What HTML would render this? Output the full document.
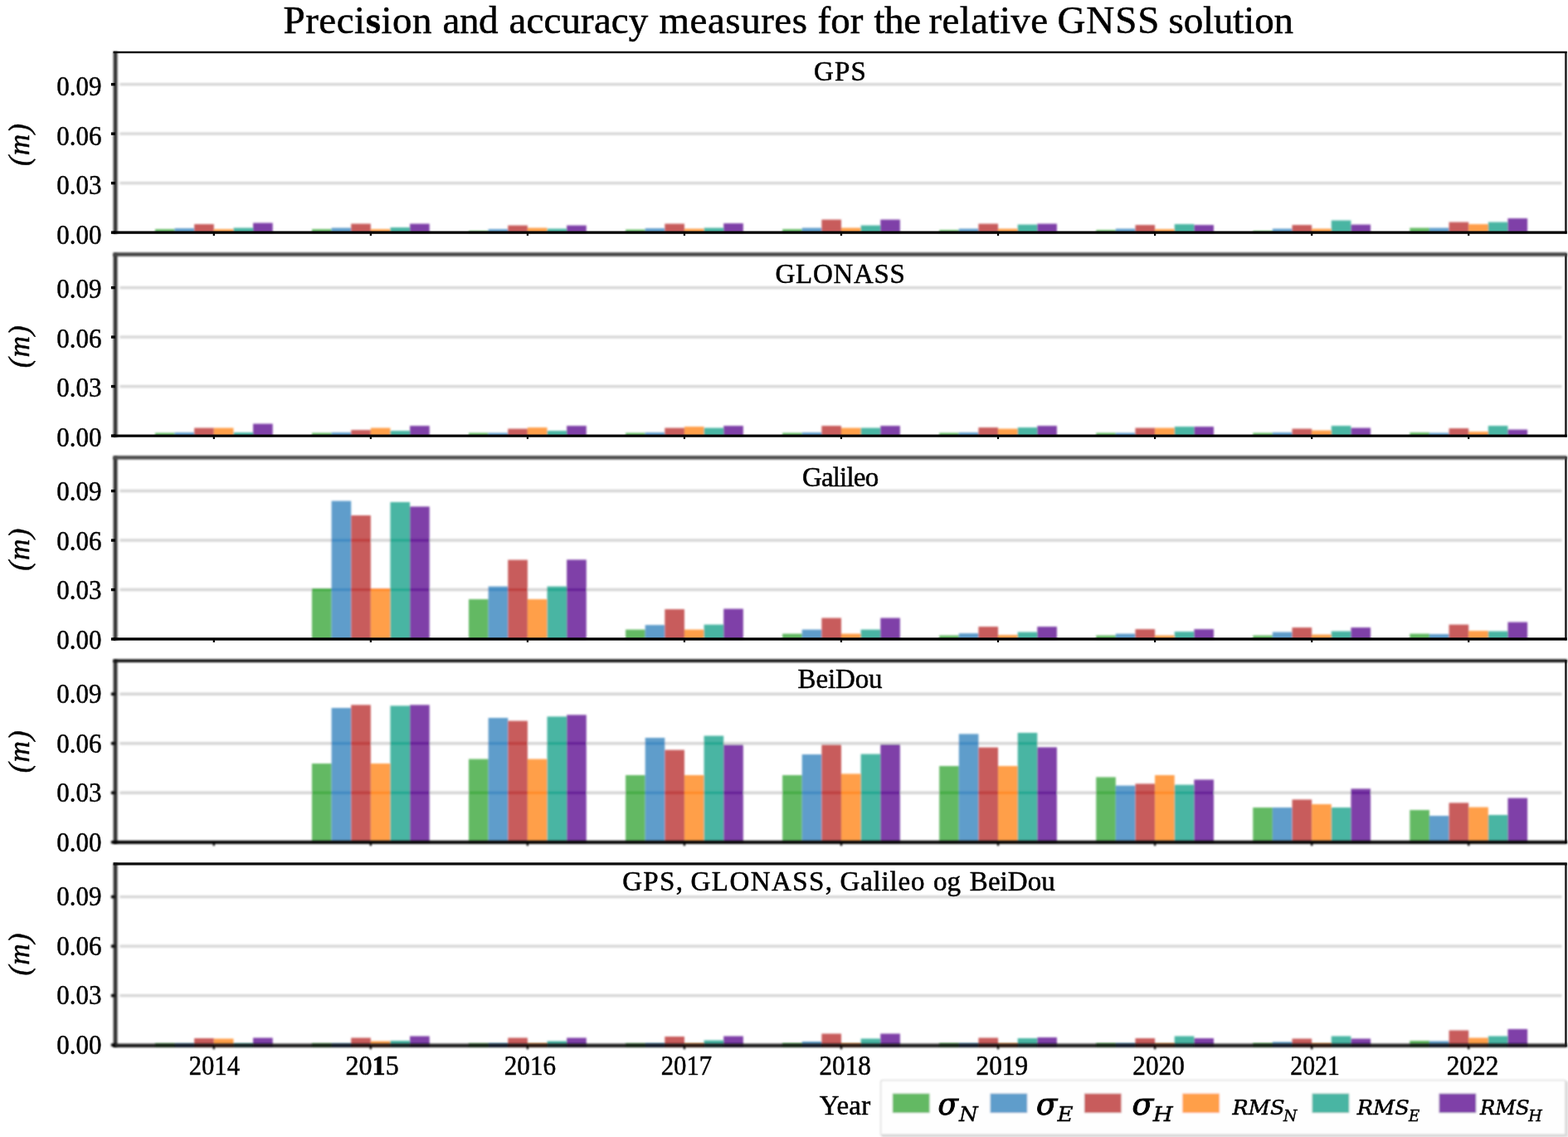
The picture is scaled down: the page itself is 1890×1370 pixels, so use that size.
<!DOCTYPE html>
<html lang="en"><head><meta charset="utf-8">
<title>Precision and accuracy measures for the relative GNSS solution</title>
<style>
html,body{margin:0;padding:0;background:#fff;}
body{width:1890px;height:1370px;overflow:hidden;position:relative;}
svg{position:absolute;left:0;top:0;display:block;}
text{font-family:"Liberation Serif","DejaVu Serif",serif;fill:#000;stroke:#000;stroke-width:0.5;}
.tt{font-size:47px;}
.tk{font-size:33.5px;}
.st{font-size:33px;}
.yl{font-size:35.3px;font-style:italic;stroke-width:0.5;letter-spacing:1.0px;}
.mt{font-family:"DejaVu Serif","Liberation Serif",serif;font-style:italic;}
</style></head><body>
<svg width="1890" height="1370" viewBox="0 0 1890 1370">
<defs>
<filter id="bl" x="0" y="0" width="1890" height="1370" filterUnits="userSpaceOnUse"><feGaussianBlur stdDeviation="0.8"/></filter>
<filter id="f05" x="0" y="0" width="1890" height="1370" filterUnits="userSpaceOnUse"><feGaussianBlur stdDeviation="0.5"/></filter>
<filter id="f06" x="0" y="0" width="1890" height="1370" filterUnits="userSpaceOnUse"><feGaussianBlur stdDeviation="0.6"/></filter>
<filter id="f07" x="0" y="0" width="1890" height="1370" filterUnits="userSpaceOnUse"><feGaussianBlur stdDeviation="0.7"/></filter>
<filter id="f08" x="0" y="0" width="1890" height="1370" filterUnits="userSpaceOnUse"><feGaussianBlur stdDeviation="0.8"/></filter>
<filter id="f09" x="0" y="0" width="1890" height="1370" filterUnits="userSpaceOnUse"><feGaussianBlur stdDeviation="0.9"/></filter>
<filter id="f11" x="0" y="0" width="1890" height="1370" filterUnits="userSpaceOnUse"><feGaussianBlur stdDeviation="1.1"/></filter>
<filter id="bt" x="0" y="0" width="1890" height="1370" filterUnits="userSpaceOnUse"><feGaussianBlur stdDeviation="0.35"/></filter>
</defs>
<rect x="0" y="0" width="1890" height="1370" fill="#ffffff"/>
<g filter="url(#bl)">
<g stroke="#d6d6d6" stroke-width="3.4">
<line x1="144.5" y1="220.65" x2="1882.5" y2="220.65"/>
<line x1="144.5" y1="161.15" x2="1882.5" y2="161.15"/>
<line x1="144.5" y1="101.65" x2="1882.5" y2="101.65"/>
</g>
<g fill="#63b963">
<rect x="186.91" y="276.10" width="23.63" height="4.05"/>
<rect x="375.96" y="276.10" width="23.63" height="4.05"/>
<rect x="565.01" y="278.10" width="23.63" height="2.05"/>
<rect x="754.06" y="276.60" width="23.63" height="3.55"/>
<rect x="943.11" y="276.10" width="23.63" height="4.05"/>
<rect x="1132.16" y="277.10" width="23.63" height="3.05"/>
<rect x="1321.21" y="277.10" width="23.63" height="3.05"/>
<rect x="1510.26" y="278.10" width="23.63" height="2.05"/>
<rect x="1699.31" y="274.60" width="23.63" height="5.55"/>
</g>
<g fill="#5f9dcb">
<rect x="210.54" y="275.10" width="23.63" height="5.05"/>
<rect x="399.59" y="274.60" width="23.63" height="5.55"/>
<rect x="588.64" y="276.10" width="23.63" height="4.05"/>
<rect x="777.69" y="275.10" width="23.63" height="5.05"/>
<rect x="966.74" y="274.60" width="23.63" height="5.55"/>
<rect x="1155.79" y="275.60" width="23.63" height="4.55"/>
<rect x="1344.84" y="275.60" width="23.63" height="4.55"/>
<rect x="1533.89" y="275.60" width="23.63" height="4.55"/>
<rect x="1722.94" y="274.60" width="23.63" height="5.55"/>
</g>
<g fill="#c85c5c">
<rect x="234.17" y="270.10" width="23.63" height="10.05"/>
<rect x="423.22" y="269.60" width="23.63" height="10.55"/>
<rect x="612.27" y="271.60" width="23.63" height="8.55"/>
<rect x="801.32" y="269.60" width="23.63" height="10.55"/>
<rect x="990.37" y="264.60" width="23.63" height="15.55"/>
<rect x="1179.42" y="269.60" width="23.63" height="10.55"/>
<rect x="1368.47" y="271.10" width="23.63" height="9.05"/>
<rect x="1557.52" y="271.10" width="23.63" height="9.05"/>
<rect x="1746.57" y="267.60" width="23.63" height="12.55"/>
</g>
<g fill="#ff9f4a">
<rect x="257.80" y="276.10" width="23.63" height="4.05"/>
<rect x="446.85" y="276.10" width="23.63" height="4.05"/>
<rect x="635.90" y="274.60" width="23.63" height="5.55"/>
<rect x="824.95" y="275.60" width="23.63" height="4.55"/>
<rect x="1014.00" y="274.60" width="23.63" height="5.55"/>
<rect x="1203.05" y="275.60" width="23.63" height="4.55"/>
<rect x="1392.10" y="276.10" width="23.63" height="4.05"/>
<rect x="1581.15" y="275.60" width="23.63" height="4.55"/>
<rect x="1770.20" y="270.10" width="23.63" height="10.05"/>
</g>
<g fill="#48b5a3">
<rect x="281.43" y="274.60" width="23.63" height="5.55"/>
<rect x="470.48" y="274.10" width="23.63" height="6.05"/>
<rect x="659.53" y="275.60" width="23.63" height="4.55"/>
<rect x="848.58" y="274.60" width="23.63" height="5.55"/>
<rect x="1037.63" y="271.60" width="23.63" height="8.55"/>
<rect x="1226.68" y="270.60" width="23.63" height="9.55"/>
<rect x="1415.73" y="270.10" width="23.63" height="10.05"/>
<rect x="1604.78" y="265.60" width="23.63" height="14.55"/>
<rect x="1793.83" y="267.60" width="23.63" height="12.55"/>
</g>
<g fill="#7f41a8">
<rect x="305.06" y="268.60" width="23.63" height="11.55"/>
<rect x="494.11" y="269.60" width="23.63" height="10.55"/>
<rect x="683.16" y="271.60" width="23.63" height="8.55"/>
<rect x="872.21" y="269.10" width="23.63" height="11.05"/>
<rect x="1061.26" y="264.60" width="23.63" height="15.55"/>
<rect x="1250.31" y="269.60" width="23.63" height="10.55"/>
<rect x="1439.36" y="271.10" width="23.63" height="9.05"/>
<rect x="1628.41" y="270.60" width="23.63" height="9.55"/>
<rect x="1817.46" y="263.10" width="23.63" height="17.05"/>
</g>
</g>
<rect filter="url(#f11)" x="136.65" y="62.00" width="4.8" height="219.55" fill="#303030"/>
<rect filter="url(#f06)" x="1886.2" y="62.00" width="2.5" height="219.55" fill="#1c1c1c"/>
<rect filter="url(#f05)" x="136.6" y="61.80" width="1752.1" height="2.40" fill="#111"/>
<g filter="url(#f06)">
<rect x="136.6" y="278.50" width="1752.1" height="3.30" fill="#000"/>
<g fill="#000">
<rect x="133.9" y="278.45" width="5" height="3.4"/>
<rect x="133.9" y="218.95" width="5" height="3.4"/>
<rect x="133.9" y="159.45" width="5" height="3.4"/>
<rect x="133.9" y="99.95" width="5" height="3.4"/>
<rect x="256.70" y="280.15" width="2.2" height="3.95"/>
<rect x="445.75" y="280.15" width="2.2" height="3.95"/>
<rect x="634.80" y="280.15" width="2.2" height="3.95"/>
<rect x="823.85" y="280.15" width="2.2" height="3.95"/>
<rect x="1012.90" y="280.15" width="2.2" height="3.95"/>
<rect x="1201.95" y="280.15" width="2.2" height="3.95"/>
<rect x="1391.00" y="280.15" width="2.2" height="3.95"/>
<rect x="1580.05" y="280.15" width="2.2" height="3.95"/>
<rect x="1769.10" y="280.15" width="2.2" height="3.95"/>
</g>
</g>
<g filter="url(#bl)">
<g stroke="#d6d6d6" stroke-width="3.4">
<line x1="144.5" y1="465.60" x2="1882.5" y2="465.60"/>
<line x1="144.5" y1="406.10" x2="1882.5" y2="406.10"/>
<line x1="144.5" y1="346.60" x2="1882.5" y2="346.60"/>
</g>
<g fill="#63b963">
<rect x="186.91" y="521.60" width="23.63" height="3.50"/>
<rect x="375.96" y="521.60" width="23.63" height="3.50"/>
<rect x="565.01" y="521.60" width="23.63" height="3.50"/>
<rect x="754.06" y="521.60" width="23.63" height="3.50"/>
<rect x="943.11" y="521.60" width="23.63" height="3.50"/>
<rect x="1132.16" y="521.60" width="23.63" height="3.50"/>
<rect x="1321.21" y="521.60" width="23.63" height="3.50"/>
<rect x="1510.26" y="521.60" width="23.63" height="3.50"/>
<rect x="1699.31" y="521.10" width="23.63" height="4.00"/>
</g>
<g fill="#5f9dcb">
<rect x="210.54" y="521.10" width="23.63" height="4.00"/>
<rect x="399.59" y="521.10" width="23.63" height="4.00"/>
<rect x="588.64" y="521.60" width="23.63" height="3.50"/>
<rect x="777.69" y="521.10" width="23.63" height="4.00"/>
<rect x="966.74" y="521.10" width="23.63" height="4.00"/>
<rect x="1155.79" y="521.10" width="23.63" height="4.00"/>
<rect x="1344.84" y="521.60" width="23.63" height="3.50"/>
<rect x="1533.89" y="521.10" width="23.63" height="4.00"/>
<rect x="1722.94" y="521.60" width="23.63" height="3.50"/>
</g>
<g fill="#c85c5c">
<rect x="234.17" y="515.60" width="23.63" height="9.50"/>
<rect x="423.22" y="518.10" width="23.63" height="7.00"/>
<rect x="612.27" y="516.60" width="23.63" height="8.50"/>
<rect x="801.32" y="515.60" width="23.63" height="9.50"/>
<rect x="990.37" y="513.10" width="23.63" height="12.00"/>
<rect x="1179.42" y="515.10" width="23.63" height="10.00"/>
<rect x="1368.47" y="515.60" width="23.63" height="9.50"/>
<rect x="1557.52" y="516.60" width="23.63" height="8.50"/>
<rect x="1746.57" y="516.10" width="23.63" height="9.00"/>
</g>
<g fill="#ff9f4a">
<rect x="257.80" y="515.60" width="23.63" height="9.50"/>
<rect x="446.85" y="515.60" width="23.63" height="9.50"/>
<rect x="635.90" y="515.10" width="23.63" height="10.00"/>
<rect x="824.95" y="514.10" width="23.63" height="11.00"/>
<rect x="1014.00" y="515.60" width="23.63" height="9.50"/>
<rect x="1203.05" y="516.60" width="23.63" height="8.50"/>
<rect x="1392.10" y="515.60" width="23.63" height="9.50"/>
<rect x="1581.15" y="518.60" width="23.63" height="6.50"/>
<rect x="1770.20" y="520.10" width="23.63" height="5.00"/>
</g>
<g fill="#48b5a3">
<rect x="281.43" y="521.10" width="23.63" height="4.00"/>
<rect x="470.48" y="519.10" width="23.63" height="6.00"/>
<rect x="659.53" y="519.10" width="23.63" height="6.00"/>
<rect x="848.58" y="515.60" width="23.63" height="9.50"/>
<rect x="1037.63" y="515.60" width="23.63" height="9.50"/>
<rect x="1226.68" y="515.10" width="23.63" height="10.00"/>
<rect x="1415.73" y="514.10" width="23.63" height="11.00"/>
<rect x="1604.78" y="513.10" width="23.63" height="12.00"/>
<rect x="1793.83" y="513.10" width="23.63" height="12.00"/>
</g>
<g fill="#7f41a8">
<rect x="305.06" y="510.60" width="23.63" height="14.50"/>
<rect x="494.11" y="513.10" width="23.63" height="12.00"/>
<rect x="683.16" y="513.10" width="23.63" height="12.00"/>
<rect x="872.21" y="513.10" width="23.63" height="12.00"/>
<rect x="1061.26" y="513.10" width="23.63" height="12.00"/>
<rect x="1250.31" y="513.10" width="23.63" height="12.00"/>
<rect x="1439.36" y="514.10" width="23.63" height="11.00"/>
<rect x="1628.41" y="515.60" width="23.63" height="9.50"/>
<rect x="1817.46" y="517.60" width="23.63" height="7.50"/>
</g>
</g>
<rect filter="url(#f11)" x="136.65" y="305.50" width="4.8" height="221.05" fill="#303030"/>
<rect filter="url(#f06)" x="1886.2" y="305.50" width="2.5" height="221.05" fill="#1c1c1c"/>
<rect filter="url(#f11)" x="136.6" y="304.20" width="1752.1" height="4.60" fill="#444"/>
<g filter="url(#f06)">
<rect x="136.6" y="523.55" width="1752.1" height="3.20" fill="#000"/>
<g fill="#000">
<rect x="133.9" y="523.40" width="5" height="3.4"/>
<rect x="133.9" y="463.90" width="5" height="3.4"/>
<rect x="133.9" y="404.40" width="5" height="3.4"/>
<rect x="133.9" y="344.90" width="5" height="3.4"/>
<rect x="256.70" y="525.15" width="2.2" height="3.90"/>
<rect x="445.75" y="525.15" width="2.2" height="3.90"/>
<rect x="634.80" y="525.15" width="2.2" height="3.90"/>
<rect x="823.85" y="525.15" width="2.2" height="3.90"/>
<rect x="1012.90" y="525.15" width="2.2" height="3.90"/>
<rect x="1201.95" y="525.15" width="2.2" height="3.90"/>
<rect x="1391.00" y="525.15" width="2.2" height="3.90"/>
<rect x="1580.05" y="525.15" width="2.2" height="3.90"/>
<rect x="1769.10" y="525.15" width="2.2" height="3.90"/>
</g>
</g>
<g filter="url(#bl)">
<g stroke="#d6d6d6" stroke-width="3.4">
<line x1="144.5" y1="710.55" x2="1882.5" y2="710.55"/>
<line x1="144.5" y1="651.05" x2="1882.5" y2="651.05"/>
<line x1="144.5" y1="591.55" x2="1882.5" y2="591.55"/>
</g>
<g fill="#63b963">
<rect x="375.96" y="709.00" width="23.63" height="61.05"/>
<rect x="565.01" y="722.00" width="23.63" height="48.05"/>
<rect x="754.06" y="758.60" width="23.63" height="11.45"/>
<rect x="943.11" y="763.60" width="23.63" height="6.45"/>
<rect x="1132.16" y="765.60" width="23.63" height="4.45"/>
<rect x="1321.21" y="765.60" width="23.63" height="4.45"/>
<rect x="1510.26" y="765.60" width="23.63" height="4.45"/>
<rect x="1699.31" y="763.60" width="23.63" height="6.45"/>
</g>
<g fill="#5f9dcb">
<rect x="399.59" y="603.60" width="23.63" height="166.45"/>
<rect x="588.64" y="706.60" width="23.63" height="63.45"/>
<rect x="777.69" y="753.10" width="23.63" height="16.95"/>
<rect x="966.74" y="758.60" width="23.63" height="11.45"/>
<rect x="1155.79" y="763.10" width="23.63" height="6.95"/>
<rect x="1344.84" y="763.60" width="23.63" height="6.45"/>
<rect x="1533.89" y="761.60" width="23.63" height="8.45"/>
<rect x="1722.94" y="764.10" width="23.63" height="5.95"/>
</g>
<g fill="#c85c5c">
<rect x="423.22" y="621.00" width="23.63" height="149.05"/>
<rect x="612.27" y="674.60" width="23.63" height="95.45"/>
<rect x="801.32" y="734.10" width="23.63" height="35.95"/>
<rect x="990.37" y="744.60" width="23.63" height="25.45"/>
<rect x="1179.42" y="755.10" width="23.63" height="14.95"/>
<rect x="1368.47" y="758.10" width="23.63" height="11.95"/>
<rect x="1557.52" y="756.10" width="23.63" height="13.95"/>
<rect x="1746.57" y="752.60" width="23.63" height="17.45"/>
</g>
<g fill="#ff9f4a">
<rect x="446.85" y="709.00" width="23.63" height="61.05"/>
<rect x="635.90" y="722.00" width="23.63" height="48.05"/>
<rect x="824.95" y="758.60" width="23.63" height="11.45"/>
<rect x="1014.00" y="763.60" width="23.63" height="6.45"/>
<rect x="1203.05" y="765.10" width="23.63" height="4.95"/>
<rect x="1392.10" y="765.60" width="23.63" height="4.45"/>
<rect x="1581.15" y="764.60" width="23.63" height="5.45"/>
<rect x="1770.20" y="760.10" width="23.63" height="9.95"/>
</g>
<g fill="#48b5a3">
<rect x="470.48" y="605.00" width="23.63" height="165.05"/>
<rect x="659.53" y="706.60" width="23.63" height="63.45"/>
<rect x="848.58" y="752.60" width="23.63" height="17.45"/>
<rect x="1037.63" y="758.60" width="23.63" height="11.45"/>
<rect x="1226.68" y="761.60" width="23.63" height="8.45"/>
<rect x="1415.73" y="761.10" width="23.63" height="8.95"/>
<rect x="1604.78" y="760.60" width="23.63" height="9.45"/>
<rect x="1793.83" y="760.60" width="23.63" height="9.45"/>
</g>
<g fill="#7f41a8">
<rect x="494.11" y="610.40" width="23.63" height="159.65"/>
<rect x="683.16" y="674.40" width="23.63" height="95.65"/>
<rect x="872.21" y="733.60" width="23.63" height="36.45"/>
<rect x="1061.26" y="744.60" width="23.63" height="25.45"/>
<rect x="1250.31" y="755.10" width="23.63" height="14.95"/>
<rect x="1439.36" y="758.10" width="23.63" height="11.95"/>
<rect x="1628.41" y="756.10" width="23.63" height="13.95"/>
<rect x="1817.46" y="749.60" width="23.63" height="20.45"/>
</g>
<g fill="#2fa22f" fill-opacity="0.6"><rect x="375.96" y="709.05" width="23.63" height="3.00"/></g>
<g fill="#2a7cba" fill-opacity="0.6"><rect x="399.59" y="709.05" width="23.63" height="3.00"/><rect x="399.59" y="649.55" width="23.63" height="3.00"/><rect x="588.64" y="709.05" width="23.63" height="3.00"/></g>
<g fill="#b62626" fill-opacity="0.6"><rect x="423.22" y="709.05" width="23.63" height="3.00"/><rect x="423.22" y="649.55" width="23.63" height="3.00"/><rect x="612.27" y="709.05" width="23.63" height="3.00"/></g>
<g fill="#ff7f0e" fill-opacity="0.6"><rect x="446.85" y="709.05" width="23.63" height="3.00"/></g>
<g fill="#0b9c84" fill-opacity="0.6"><rect x="470.48" y="709.05" width="23.63" height="3.00"/><rect x="470.48" y="649.55" width="23.63" height="3.00"/><rect x="659.53" y="709.05" width="23.63" height="3.00"/></g>
<g fill="#54028b" fill-opacity="0.6"><rect x="494.11" y="709.05" width="23.63" height="3.00"/><rect x="494.11" y="649.55" width="23.63" height="3.00"/><rect x="683.16" y="709.05" width="23.63" height="3.00"/></g>
</g>
<rect filter="url(#f11)" x="136.65" y="550.35" width="4.8" height="221.05" fill="#303030"/>
<rect filter="url(#f06)" x="1886.2" y="550.35" width="2.5" height="221.05" fill="#1c1c1c"/>
<rect filter="url(#f11)" x="136.6" y="549.15" width="1752.1" height="4.40" fill="#484848"/>
<g filter="url(#f07)">
<rect x="136.6" y="768.30" width="1752.1" height="3.40" fill="#000"/>
<g fill="#000">
<rect x="133.9" y="768.35" width="5" height="3.4"/>
<rect x="133.9" y="708.85" width="5" height="3.4"/>
<rect x="133.9" y="649.35" width="5" height="3.4"/>
<rect x="133.9" y="589.85" width="5" height="3.4"/>
<rect x="256.70" y="770.00" width="2.2" height="4.00"/>
<rect x="445.75" y="770.00" width="2.2" height="4.00"/>
<rect x="634.80" y="770.00" width="2.2" height="4.00"/>
<rect x="823.85" y="770.00" width="2.2" height="4.00"/>
<rect x="1012.90" y="770.00" width="2.2" height="4.00"/>
<rect x="1201.95" y="770.00" width="2.2" height="4.00"/>
<rect x="1391.00" y="770.00" width="2.2" height="4.00"/>
<rect x="1580.05" y="770.00" width="2.2" height="4.00"/>
<rect x="1769.10" y="770.00" width="2.2" height="4.00"/>
</g>
</g>
<g filter="url(#bl)">
<g stroke="#d6d6d6" stroke-width="3.4">
<line x1="144.5" y1="955.25" x2="1882.5" y2="955.25"/>
<line x1="144.5" y1="895.75" x2="1882.5" y2="895.75"/>
<line x1="144.5" y1="836.25" x2="1882.5" y2="836.25"/>
</g>
<g fill="#63b963">
<rect x="375.96" y="920.00" width="23.63" height="94.75"/>
<rect x="565.01" y="914.60" width="23.63" height="100.15"/>
<rect x="754.06" y="934.00" width="23.63" height="80.75"/>
<rect x="943.11" y="934.00" width="23.63" height="80.75"/>
<rect x="1132.16" y="923.00" width="23.63" height="91.75"/>
<rect x="1321.21" y="936.40" width="23.63" height="78.35"/>
<rect x="1510.26" y="973.00" width="23.63" height="41.75"/>
<rect x="1699.31" y="976.00" width="23.63" height="38.75"/>
</g>
<g fill="#5f9dcb">
<rect x="399.59" y="853.00" width="23.63" height="161.75"/>
<rect x="588.64" y="865.00" width="23.63" height="149.75"/>
<rect x="777.69" y="889.00" width="23.63" height="125.75"/>
<rect x="966.74" y="909.00" width="23.63" height="105.75"/>
<rect x="1155.79" y="884.40" width="23.63" height="130.35"/>
<rect x="1344.84" y="946.60" width="23.63" height="68.15"/>
<rect x="1533.89" y="973.00" width="23.63" height="41.75"/>
<rect x="1722.94" y="983.00" width="23.63" height="31.75"/>
</g>
<g fill="#c85c5c">
<rect x="423.22" y="849.40" width="23.63" height="165.35"/>
<rect x="612.27" y="868.60" width="23.63" height="146.15"/>
<rect x="801.32" y="903.60" width="23.63" height="111.15"/>
<rect x="990.37" y="897.40" width="23.63" height="117.35"/>
<rect x="1179.42" y="900.60" width="23.63" height="114.15"/>
<rect x="1368.47" y="944.40" width="23.63" height="70.35"/>
<rect x="1557.52" y="963.40" width="23.63" height="51.35"/>
<rect x="1746.57" y="967.40" width="23.63" height="47.35"/>
</g>
<g fill="#ff9f4a">
<rect x="446.85" y="920.00" width="23.63" height="94.75"/>
<rect x="635.90" y="914.60" width="23.63" height="100.15"/>
<rect x="824.95" y="934.00" width="23.63" height="80.75"/>
<rect x="1014.00" y="932.40" width="23.63" height="82.35"/>
<rect x="1203.05" y="923.00" width="23.63" height="91.75"/>
<rect x="1392.10" y="934.00" width="23.63" height="80.75"/>
<rect x="1581.15" y="969.00" width="23.63" height="45.75"/>
<rect x="1770.20" y="972.60" width="23.63" height="42.15"/>
</g>
<g fill="#48b5a3">
<rect x="470.48" y="850.40" width="23.63" height="164.35"/>
<rect x="659.53" y="863.40" width="23.63" height="151.35"/>
<rect x="848.58" y="886.60" width="23.63" height="128.15"/>
<rect x="1037.63" y="908.60" width="23.63" height="106.15"/>
<rect x="1226.68" y="883.00" width="23.63" height="131.75"/>
<rect x="1415.73" y="945.60" width="23.63" height="69.15"/>
<rect x="1604.78" y="973.00" width="23.63" height="41.75"/>
<rect x="1793.83" y="982.00" width="23.63" height="32.75"/>
</g>
<g fill="#7f41a8">
<rect x="494.11" y="849.40" width="23.63" height="165.35"/>
<rect x="683.16" y="861.40" width="23.63" height="153.35"/>
<rect x="872.21" y="897.40" width="23.63" height="117.35"/>
<rect x="1061.26" y="897.00" width="23.63" height="117.75"/>
<rect x="1250.31" y="900.40" width="23.63" height="114.35"/>
<rect x="1439.36" y="939.40" width="23.63" height="75.35"/>
<rect x="1628.41" y="950.40" width="23.63" height="64.35"/>
<rect x="1817.46" y="961.60" width="23.63" height="53.15"/>
</g>
<g fill="#2fa22f" fill-opacity="0.6"><rect x="375.96" y="953.75" width="23.63" height="3.00"/><rect x="565.01" y="953.75" width="23.63" height="3.00"/><rect x="754.06" y="953.75" width="23.63" height="3.00"/><rect x="943.11" y="953.75" width="23.63" height="3.00"/><rect x="1132.16" y="953.75" width="23.63" height="3.00"/><rect x="1321.21" y="953.75" width="23.63" height="3.00"/></g>
<g fill="#2a7cba" fill-opacity="0.6"><rect x="399.59" y="953.75" width="23.63" height="3.00"/><rect x="399.59" y="894.25" width="23.63" height="3.00"/><rect x="588.64" y="953.75" width="23.63" height="3.00"/><rect x="588.64" y="894.25" width="23.63" height="3.00"/><rect x="777.69" y="953.75" width="23.63" height="3.00"/><rect x="777.69" y="894.25" width="23.63" height="3.00"/><rect x="966.74" y="953.75" width="23.63" height="3.00"/><rect x="1155.79" y="953.75" width="23.63" height="3.00"/><rect x="1155.79" y="894.25" width="23.63" height="3.00"/><rect x="1344.84" y="953.75" width="23.63" height="3.00"/></g>
<g fill="#b62626" fill-opacity="0.6"><rect x="423.22" y="953.75" width="23.63" height="3.00"/><rect x="423.22" y="894.25" width="23.63" height="3.00"/><rect x="612.27" y="953.75" width="23.63" height="3.00"/><rect x="612.27" y="894.25" width="23.63" height="3.00"/><rect x="801.32" y="953.75" width="23.63" height="3.00"/><rect x="990.37" y="953.75" width="23.63" height="3.00"/><rect x="1179.42" y="953.75" width="23.63" height="3.00"/><rect x="1368.47" y="953.75" width="23.63" height="3.00"/></g>
<g fill="#ff7f0e" fill-opacity="0.6"><rect x="446.85" y="953.75" width="23.63" height="3.00"/><rect x="635.90" y="953.75" width="23.63" height="3.00"/><rect x="824.95" y="953.75" width="23.63" height="3.00"/><rect x="1014.00" y="953.75" width="23.63" height="3.00"/><rect x="1203.05" y="953.75" width="23.63" height="3.00"/><rect x="1392.10" y="953.75" width="23.63" height="3.00"/></g>
<g fill="#0b9c84" fill-opacity="0.6"><rect x="470.48" y="953.75" width="23.63" height="3.00"/><rect x="470.48" y="894.25" width="23.63" height="3.00"/><rect x="659.53" y="953.75" width="23.63" height="3.00"/><rect x="659.53" y="894.25" width="23.63" height="3.00"/><rect x="848.58" y="953.75" width="23.63" height="3.00"/><rect x="848.58" y="894.25" width="23.63" height="3.00"/><rect x="1037.63" y="953.75" width="23.63" height="3.00"/><rect x="1226.68" y="953.75" width="23.63" height="3.00"/><rect x="1226.68" y="894.25" width="23.63" height="3.00"/><rect x="1415.73" y="953.75" width="23.63" height="3.00"/></g>
<g fill="#54028b" fill-opacity="0.6"><rect x="494.11" y="953.75" width="23.63" height="3.00"/><rect x="494.11" y="894.25" width="23.63" height="3.00"/><rect x="683.16" y="953.75" width="23.63" height="3.00"/><rect x="683.16" y="894.25" width="23.63" height="3.00"/><rect x="872.21" y="953.75" width="23.63" height="3.00"/><rect x="1061.26" y="953.75" width="23.63" height="3.00"/><rect x="1061.26" y="897.00" width="23.63" height="0.25"/><rect x="1250.31" y="953.75" width="23.63" height="3.00"/><rect x="1439.36" y="953.75" width="23.63" height="3.00"/><rect x="1628.41" y="953.75" width="23.63" height="3.00"/></g>
</g>
<rect filter="url(#f11)" x="136.65" y="795.20" width="4.8" height="221.05" fill="#303030"/>
<rect filter="url(#f06)" x="1886.2" y="795.20" width="2.5" height="221.05" fill="#1c1c1c"/>
<rect filter="url(#f08)" x="136.6" y="794.35" width="1752.1" height="3.70" fill="#101010"/>
<g filter="url(#f09)">
<rect x="136.6" y="1012.85" width="1752.1" height="4.00" fill="#000"/>
<g fill="#000">
<rect x="133.9" y="1013.05" width="5" height="3.4"/>
<rect x="133.9" y="953.55" width="5" height="3.4"/>
<rect x="133.9" y="894.05" width="5" height="3.4"/>
<rect x="133.9" y="834.55" width="5" height="3.4"/>
<rect x="256.70" y="1014.85" width="2.2" height="4.30"/>
<rect x="445.75" y="1014.85" width="2.2" height="4.30"/>
<rect x="634.80" y="1014.85" width="2.2" height="4.30"/>
<rect x="823.85" y="1014.85" width="2.2" height="4.30"/>
<rect x="1012.90" y="1014.85" width="2.2" height="4.30"/>
<rect x="1201.95" y="1014.85" width="2.2" height="4.30"/>
<rect x="1391.00" y="1014.85" width="2.2" height="4.30"/>
<rect x="1580.05" y="1014.85" width="2.2" height="4.30"/>
<rect x="1769.10" y="1014.85" width="2.2" height="4.30"/>
</g>
</g>
<g filter="url(#bl)">
<g stroke="#d6d6d6" stroke-width="3.4">
<line x1="144.5" y1="1199.60" x2="1882.5" y2="1199.60"/>
<line x1="144.5" y1="1140.10" x2="1882.5" y2="1140.10"/>
<line x1="144.5" y1="1080.60" x2="1882.5" y2="1080.60"/>
</g>
<g fill="#63b963">
<rect x="186.91" y="1257.50" width="23.63" height="1.60"/>
<rect x="375.96" y="1257.50" width="23.63" height="1.60"/>
<rect x="565.01" y="1257.50" width="23.63" height="1.60"/>
<rect x="754.06" y="1257.50" width="23.63" height="1.60"/>
<rect x="943.11" y="1257.00" width="23.63" height="2.10"/>
<rect x="1132.16" y="1257.00" width="23.63" height="2.10"/>
<rect x="1321.21" y="1257.00" width="23.63" height="2.10"/>
<rect x="1510.26" y="1257.00" width="23.63" height="2.10"/>
<rect x="1699.31" y="1254.00" width="23.63" height="5.10"/>
</g>
<g fill="#5f9dcb">
<rect x="210.54" y="1257.50" width="23.63" height="1.60"/>
<rect x="399.59" y="1257.50" width="23.63" height="1.60"/>
<rect x="588.64" y="1257.00" width="23.63" height="2.10"/>
<rect x="777.69" y="1257.00" width="23.63" height="2.10"/>
<rect x="966.74" y="1255.00" width="23.63" height="4.10"/>
<rect x="1155.79" y="1257.00" width="23.63" height="2.10"/>
<rect x="1344.84" y="1257.00" width="23.63" height="2.10"/>
<rect x="1533.89" y="1255.50" width="23.63" height="3.60"/>
<rect x="1722.94" y="1254.50" width="23.63" height="4.60"/>
</g>
<g fill="#c85c5c">
<rect x="234.17" y="1251.00" width="23.63" height="8.10"/>
<rect x="423.22" y="1250.50" width="23.63" height="8.60"/>
<rect x="612.27" y="1250.50" width="23.63" height="8.60"/>
<rect x="801.32" y="1249.00" width="23.63" height="10.10"/>
<rect x="990.37" y="1245.50" width="23.63" height="13.60"/>
<rect x="1179.42" y="1250.50" width="23.63" height="8.60"/>
<rect x="1368.47" y="1251.00" width="23.63" height="8.10"/>
<rect x="1557.52" y="1251.50" width="23.63" height="7.60"/>
<rect x="1746.57" y="1241.50" width="23.63" height="17.60"/>
</g>
<g fill="#ff9f4a">
<rect x="257.80" y="1251.50" width="23.63" height="7.60"/>
<rect x="446.85" y="1254.50" width="23.63" height="4.60"/>
<rect x="635.90" y="1257.00" width="23.63" height="2.10"/>
<rect x="824.95" y="1257.00" width="23.63" height="2.10"/>
<rect x="1014.00" y="1257.00" width="23.63" height="2.10"/>
<rect x="1203.05" y="1257.00" width="23.63" height="2.10"/>
<rect x="1392.10" y="1257.00" width="23.63" height="2.10"/>
<rect x="1581.15" y="1257.00" width="23.63" height="2.10"/>
<rect x="1770.20" y="1250.50" width="23.63" height="8.60"/>
</g>
<g fill="#48b5a3">
<rect x="281.43" y="1257.50" width="23.63" height="1.60"/>
<rect x="470.48" y="1254.00" width="23.63" height="5.10"/>
<rect x="659.53" y="1254.50" width="23.63" height="4.60"/>
<rect x="848.58" y="1253.50" width="23.63" height="5.60"/>
<rect x="1037.63" y="1251.50" width="23.63" height="7.60"/>
<rect x="1226.68" y="1251.00" width="23.63" height="8.10"/>
<rect x="1415.73" y="1248.50" width="23.63" height="10.60"/>
<rect x="1604.78" y="1248.50" width="23.63" height="10.60"/>
<rect x="1793.83" y="1248.50" width="23.63" height="10.60"/>
</g>
<g fill="#7f41a8">
<rect x="305.06" y="1250.50" width="23.63" height="8.60"/>
<rect x="494.11" y="1248.50" width="23.63" height="10.60"/>
<rect x="683.16" y="1250.50" width="23.63" height="8.60"/>
<rect x="872.21" y="1248.50" width="23.63" height="10.60"/>
<rect x="1061.26" y="1245.50" width="23.63" height="13.60"/>
<rect x="1250.31" y="1250.00" width="23.63" height="9.10"/>
<rect x="1439.36" y="1251.00" width="23.63" height="8.10"/>
<rect x="1628.41" y="1251.50" width="23.63" height="7.60"/>
<rect x="1817.46" y="1240.00" width="23.63" height="19.10"/>
</g>
</g>
<rect filter="url(#f11)" x="136.65" y="1039.90" width="4.8" height="221.30" fill="#303030"/>
<rect filter="url(#f06)" x="1886.2" y="1039.90" width="2.5" height="221.30" fill="#1c1c1c"/>
<rect filter="url(#f07)" x="136.6" y="1039.30" width="1752.1" height="3.20" fill="#080808"/>
<g filter="url(#f09)">
<rect x="136.6" y="1257.60" width="1752.1" height="4.40" fill="#1c1c1c"/>
<g fill="#0f1d0f">
<rect x="186.91" y="1257.60" width="23.63" height="4.40"/>
<rect x="375.96" y="1257.60" width="23.63" height="4.40"/>
<rect x="565.01" y="1257.60" width="23.63" height="4.40"/>
<rect x="754.06" y="1257.60" width="23.63" height="4.40"/>
<rect x="943.11" y="1257.60" width="23.63" height="4.40"/>
<rect x="1132.16" y="1257.60" width="23.63" height="4.40"/>
<rect x="1321.21" y="1257.60" width="23.63" height="4.40"/>
<rect x="1510.26" y="1257.60" width="23.63" height="4.40"/>
<rect x="1699.31" y="1257.60" width="23.63" height="4.40"/>
</g>
<g fill="#0f1920">
<rect x="210.54" y="1257.60" width="23.63" height="4.40"/>
<rect x="399.59" y="1257.60" width="23.63" height="4.40"/>
<rect x="588.64" y="1257.60" width="23.63" height="4.40"/>
<rect x="777.69" y="1257.60" width="23.63" height="4.40"/>
<rect x="966.74" y="1257.60" width="23.63" height="4.40"/>
<rect x="1155.79" y="1257.60" width="23.63" height="4.40"/>
<rect x="1344.84" y="1257.60" width="23.63" height="4.40"/>
<rect x="1533.89" y="1257.60" width="23.63" height="4.40"/>
<rect x="1722.94" y="1257.60" width="23.63" height="4.40"/>
</g>
<g fill="#200e0e">
<rect x="234.17" y="1257.60" width="23.63" height="4.40"/>
<rect x="423.22" y="1257.60" width="23.63" height="4.40"/>
<rect x="612.27" y="1257.60" width="23.63" height="4.40"/>
<rect x="801.32" y="1257.60" width="23.63" height="4.40"/>
<rect x="990.37" y="1257.60" width="23.63" height="4.40"/>
<rect x="1179.42" y="1257.60" width="23.63" height="4.40"/>
<rect x="1368.47" y="1257.60" width="23.63" height="4.40"/>
<rect x="1557.52" y="1257.60" width="23.63" height="4.40"/>
<rect x="1746.57" y="1257.60" width="23.63" height="4.40"/>
</g>
<g fill="#28190b">
<rect x="257.80" y="1257.60" width="23.63" height="4.40"/>
<rect x="446.85" y="1257.60" width="23.63" height="4.40"/>
<rect x="635.90" y="1257.60" width="23.63" height="4.40"/>
<rect x="824.95" y="1257.60" width="23.63" height="4.40"/>
<rect x="1014.00" y="1257.60" width="23.63" height="4.40"/>
<rect x="1203.05" y="1257.60" width="23.63" height="4.40"/>
<rect x="1392.10" y="1257.60" width="23.63" height="4.40"/>
<rect x="1581.15" y="1257.60" width="23.63" height="4.40"/>
<rect x="1770.20" y="1257.60" width="23.63" height="4.40"/>
</g>
<g fill="#0b1c1a">
<rect x="281.43" y="1257.60" width="23.63" height="4.40"/>
<rect x="470.48" y="1257.60" width="23.63" height="4.40"/>
<rect x="659.53" y="1257.60" width="23.63" height="4.40"/>
<rect x="848.58" y="1257.60" width="23.63" height="4.40"/>
<rect x="1037.63" y="1257.60" width="23.63" height="4.40"/>
<rect x="1226.68" y="1257.60" width="23.63" height="4.40"/>
<rect x="1415.73" y="1257.60" width="23.63" height="4.40"/>
<rect x="1604.78" y="1257.60" width="23.63" height="4.40"/>
<rect x="1793.83" y="1257.60" width="23.63" height="4.40"/>
</g>
<g fill="#140a1a">
<rect x="305.06" y="1257.60" width="23.63" height="4.40"/>
<rect x="494.11" y="1257.60" width="23.63" height="4.40"/>
<rect x="683.16" y="1257.60" width="23.63" height="4.40"/>
<rect x="872.21" y="1257.60" width="23.63" height="4.40"/>
<rect x="1061.26" y="1257.60" width="23.63" height="4.40"/>
<rect x="1250.31" y="1257.60" width="23.63" height="4.40"/>
<rect x="1439.36" y="1257.60" width="23.63" height="4.40"/>
<rect x="1628.41" y="1257.60" width="23.63" height="4.40"/>
<rect x="1817.46" y="1257.60" width="23.63" height="4.40"/>
</g>
<g fill="#000">
<rect x="133.9" y="1257.40" width="5" height="3.4"/>
<rect x="133.9" y="1197.90" width="5" height="3.4"/>
<rect x="133.9" y="1138.40" width="5" height="3.4"/>
<rect x="133.9" y="1078.90" width="5" height="3.4"/>
<rect x="256.70" y="1259.80" width="2.2" height="4.50"/>
<rect x="445.75" y="1259.80" width="2.2" height="4.50"/>
<rect x="634.80" y="1259.80" width="2.2" height="4.50"/>
<rect x="823.85" y="1259.80" width="2.2" height="4.50"/>
<rect x="1012.90" y="1259.80" width="2.2" height="4.50"/>
<rect x="1201.95" y="1259.80" width="2.2" height="4.50"/>
<rect x="1391.00" y="1259.80" width="2.2" height="4.50"/>
<rect x="1580.05" y="1259.80" width="2.2" height="4.50"/>
<rect x="1769.10" y="1259.80" width="2.2" height="4.50"/>
</g>
</g>
<g filter="url(#bl)">
<rect x="1061.6" y="1301.4" width="826" height="67" rx="2.5" ry="2.5" fill="#fefefe" stroke="#dedede" stroke-width="1.5"/>
<rect x="1063" y="1366.6" width="827" height="3.4" fill="#d6d6d6"/>
<rect x="1886.2" y="1303" width="3.8" height="67" fill="#dadada"/>
<rect x="1075.90" y="1317.6" width="44.6" height="23.4" fill="#63b963"/>
<rect x="1193.60" y="1317.6" width="44.6" height="23.4" fill="#5f9dcb"/>
<rect x="1307.00" y="1317.6" width="44.6" height="23.4" fill="#c85c5c"/>
<rect x="1425.30" y="1317.6" width="44.6" height="23.4" fill="#ff9f4a"/>
<rect x="1581.60" y="1317.6" width="44.6" height="23.4" fill="#48b5a3"/>
<rect x="1734.60" y="1317.6" width="44.6" height="23.4" fill="#7f41a8"/>
</g>
<g filter="url(#bt)">
<text class="tt" x="341.50" y="40.00" style="letter-spacing:0.518px">Preci<tspan font-weight="bold">s</tspan>ion</text>
<text class="tt" x="533.50" y="40.00" style="letter-spacing:-0.450px">and</text>
<text class="tt" x="613.50" y="40.00" style="letter-spacing:0.129px">accuracy</text>
<text class="tt" x="794.50" y="40.00" style="letter-spacing:0.514px">measures</text>
<text class="tt" x="985.50" y="40.00" style="letter-spacing:0.000px">for</text>
<text class="tt" x="1053.50" y="40.00" style="letter-spacing:-0.450px">the</text>
<text class="tt" x="1119.50" y="40.00" style="letter-spacing:0.386px">relative</text>
<text class="tt" x="1274.50" y="40.00" style="letter-spacing:0.900px">GNSS</text>
<text class="tt" x="1408.50" y="40.00" style="letter-spacing:-0.129px">solution</text>
<text class="st" x="981.10" y="97.10" style="letter-spacing:1.170px">GPS</text>
<text class="st" x="934.60" y="340.80" style="letter-spacing:0.660px">GLONASS</text>
<text class="st" x="966.90" y="585.60" style="letter-spacing:-0.810px">Galileo</text>
<text class="st" x="961.50" y="829.40" style="letter-spacing:-0.108px">BeiDou</text>
<text class="st" x="750.20" y="1073.30" style="letter-spacing:1.320px">GPS,</text>
<text class="st" x="832.60" y="1073.30" style="letter-spacing:1.440px">GLONASS,</text>
<text class="st" x="1012.50" y="1073.30" style="letter-spacing:0.810px">Galileo</text>
<text class="st" x="1124.90" y="1073.30" style="letter-spacing:0.000px">og</text>
<text class="st" x="1168.80" y="1073.30" style="letter-spacing:0.072px">BeiDou</text>
<text class="tk" text-anchor="end" transform="translate(122.4 293.50) scale(0.925 1)">0.00</text>
<text class="tk" text-anchor="end" transform="translate(122.4 234.00) scale(0.925 1)">0.03</text>
<text class="tk" text-anchor="end" transform="translate(122.4 174.50) scale(0.925 1)">0.06</text>
<text class="tk" text-anchor="end" transform="translate(122.4 115.00) scale(0.925 1)">0.09</text>
<text class="yl" x="0" y="0" text-anchor="middle" transform="translate(35.3 173.88) rotate(-90)">(m)</text>
<text class="tk" text-anchor="end" transform="translate(122.4 537.80) scale(0.925 1)">0.00</text>
<text class="tk" text-anchor="end" transform="translate(122.4 478.30) scale(0.925 1)">0.03</text>
<text class="tk" text-anchor="end" transform="translate(122.4 418.80) scale(0.925 1)">0.06</text>
<text class="tk" text-anchor="end" transform="translate(122.4 359.30) scale(0.925 1)">0.09</text>
<text class="yl" x="0" y="0" text-anchor="middle" transform="translate(35.3 417.30) rotate(-90)">(m)</text>
<text class="tk" text-anchor="end" transform="translate(122.4 781.85) scale(0.925 1)">0.00</text>
<text class="tk" text-anchor="end" transform="translate(122.4 722.35) scale(0.925 1)">0.03</text>
<text class="tk" text-anchor="end" transform="translate(122.4 662.85) scale(0.925 1)">0.06</text>
<text class="tk" text-anchor="end" transform="translate(122.4 603.35) scale(0.925 1)">0.09</text>
<text class="yl" x="0" y="0" text-anchor="middle" transform="translate(35.3 661.85) rotate(-90)">(m)</text>
<text class="tk" text-anchor="end" transform="translate(122.4 1025.85) scale(0.925 1)">0.00</text>
<text class="tk" text-anchor="end" transform="translate(122.4 966.35) scale(0.925 1)">0.03</text>
<text class="tk" text-anchor="end" transform="translate(122.4 906.85) scale(0.925 1)">0.06</text>
<text class="tk" text-anchor="end" transform="translate(122.4 847.35) scale(0.925 1)">0.09</text>
<text class="yl" x="0" y="0" text-anchor="middle" transform="translate(35.3 905.27) rotate(-90)">(m)</text>
<text class="tk" text-anchor="end" transform="translate(122.4 1269.90) scale(0.925 1)">0.00</text>
<text class="tk" text-anchor="end" transform="translate(122.4 1210.40) scale(0.925 1)">0.03</text>
<text class="tk" text-anchor="end" transform="translate(122.4 1150.90) scale(0.925 1)">0.06</text>
<text class="tk" text-anchor="end" transform="translate(122.4 1091.40) scale(0.925 1)">0.09</text>
<text class="yl" x="0" y="0" text-anchor="middle" transform="translate(35.3 1149.60) rotate(-90)">(m)</text>
<text class="tk" transform="translate(227.70 1295.20) scale(0.9156 1)">2014</text>
<text class="tk" transform="translate(416.50 1295.20) scale(0.9580 1)">20<tspan font-weight="bold">1</tspan>5</text>
<text class="tk" transform="translate(607.70 1295.20) scale(0.9310 1)">2016</text>
<text class="tk" transform="translate(796.70 1295.20) scale(0.9173 1)">2017</text>
<text class="tk" transform="translate(987.50 1295.20) scale(0.9308 1)">2018</text>
<text class="tk" transform="translate(1176.50 1295.20) scale(0.9358 1)">2019</text>
<text class="tk" transform="translate(1365.30 1295.20) scale(0.9336 1)">2020</text>
<text class="tk" transform="translate(1555.30 1295.20) scale(0.8878 1)">2021</text>
<text class="tk" transform="translate(1743.70 1295.20) scale(0.9357 1)">2022</text>
<text class="st" x="987.80" y="1342.60" style="letter-spacing:0.180px">Year</text>
<text class="mt" font-size="38" style="stroke-width:1.0" transform="translate(1130.50 1342.70) scale(0.9384 1)">σ</text>
<text class="mt" font-size="24.8" style="stroke-width:0.4" transform="translate(1156.10 1350.50) scale(1.0495 1)">N</text>
<text class="mt" font-size="38" style="stroke-width:1.0" transform="translate(1249.00 1342.70) scale(0.9729 1)">σ</text>
<text class="mt" font-size="24.8" style="stroke-width:0.4" transform="translate(1274.60 1350.50) scale(1.0519 1)">E</text>
<text class="mt" font-size="38" style="stroke-width:1.0" transform="translate(1364.50 1342.70) scale(0.9951 1)">σ</text>
<text class="mt" font-size="24.8" style="stroke-width:0.4" transform="translate(1389.80 1350.50) scale(1.1113 1)">H</text>
<text class="mt" font-size="24.8" style="stroke-width:0.55" transform="translate(1485.60 1343.10) scale(1.0299 1)">RMS</text>
<text class="mt" font-size="18.6" style="stroke-width:0.4" transform="translate(1546.90 1350.90) scale(1.0124 1)">N</text>
<text class="mt" font-size="24.8" style="stroke-width:0.55" transform="translate(1635.80 1343.10) scale(1.0328 1)">RMS</text>
<text class="mt" font-size="18.6" style="stroke-width:0.4" transform="translate(1698.10 1350.90) scale(0.9775 1)">E</text>
<text class="mt" font-size="24.8" style="stroke-width:0.55" transform="translate(1783.90 1343.10) scale(0.9810 1)">RMS</text>
<text class="mt" font-size="18.6" style="stroke-width:0.4" transform="translate(1842.20 1350.90) scale(1.0232 1)">H</text>
</g>
</svg>
</body></html>
